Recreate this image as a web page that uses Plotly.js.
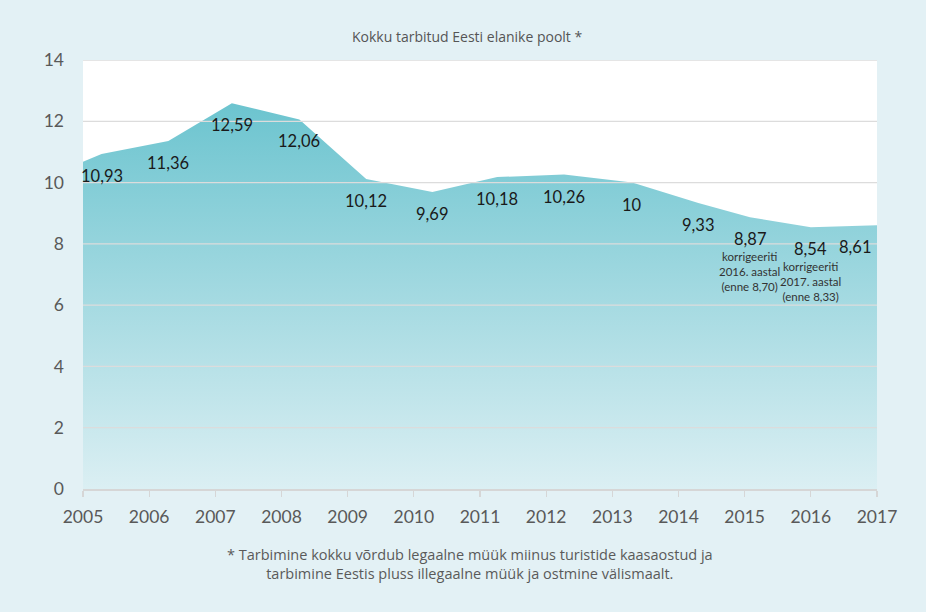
<!DOCTYPE html>
<html>
<head>
<meta charset="utf-8">
<script src="https://cdn.plot.ly/plotly-3.0.1.min.js"></script>
<style>html,body{margin:0;padding:0;background:#e3f1f5;}#chart{width:926px;height:612px;}</style>
</head>
<body>
<div id="chart"></div>
<script>
// ---- data ----
const tickYears = [2005, 2006, 2007, 2008, 2009, 2010, 2011, 2012, 2013, 2014, 2015, 2016, 2017];
const pointYears = [2005.28, 2006.29, 2007.25, 2008.27, 2009.28, 2010.28, 2011.26, 2012.27, 2013.3, 2014.3, 2015.08, 2016.0, 2017.0];
const values = [10.93, 11.36, 12.59, 12.06, 10.12, 9.69, 10.18, 10.26, 10, 9.33, 8.87, 8.54, 8.61];
const leftEdgeYear = 2005;
const leftEdgeValue = 10.68;
const notes = ['', '', '', '', '', '', '', '', '', '', 'korrigeeriti<br>2016. aastal<br>(enne 8,70)', 'korrigeeriti<br>2017. aastal<br>(enne 8,33)', ''];
const yTicks = [0, 2, 4, 6, 8, 10, 12, 14];
const titleText = 'Kokku tarbitud Eesti elanike poolt *';
const footText = '* Tarbimine kokku võrdub legaalne müük miinus turistide kaasaostud ja<br>tarbimine Eestis pluss illegaalne müük ja ostmine välismaalt.';

const FONT = 'Lato, "Open Sans", sans-serif';
const FONT2 = '"Open Sans", Lato, sans-serif';
const fmt = v => String(v).replace('.', ',');

const trace = {
  type: 'scatter',
  mode: 'none',
  x: [leftEdgeYear].concat(pointYears),
  y: [leftEdgeValue].concat(values),
  fill: 'tozeroy',
  fillcolor: '#8fd0da',
  fillgradient: {type: 'vertical', colorscale: [[0, '#dbeff3'], [1, '#6cc4cf']]},
  hoverinfo: 'skip',
  showlegend: false
};

const annotations = [];
values.forEach((v, i) => {
  const last = i === values.length - 1;
  annotations.push({
    x: pointYears[i], y: v, xref: 'x', yref: 'y',
    text: fmt(v), showarrow: false,
    xanchor: last ? 'right' : 'center', yanchor: 'top',
    xshift: last ? -4 : 0,
    yshift: -10,
    font: {family: FONT, size: 16.5, color: '#1a1a1a'}
  });
  if (notes[i]) {
    annotations.push({
      x: pointYears[i], y: v, xref: 'x', yref: 'y',
      text: notes[i], showarrow: false,
      xanchor: 'center', yanchor: 'top',
      yshift: -31,
      font: {family: FONT, size: 11.5, color: '#333333'}
    });
  }
});
annotations.push({
  x: 0.5, y: 1, xref: 'paper', yref: 'paper', yanchor: 'bottom', yshift: 12, xshift: -13,
  text: titleText, showarrow: false,
  font: {family: FONT2, size: 14, color: '#555555'}
});
annotations.push({
  x: 0.5, y: 0, xref: 'paper', yref: 'paper', yanchor: 'top', yshift: -54, xshift: -10,
  text: footText, showarrow: false, align: 'center',
  font: {family: FONT2, size: 14.5, color: '#5a5a5a'}
});

const shapes = yTicks.filter(t => t > 0).map(t => ({
  type: 'line', xref: 'paper', yref: 'y', x0: 0, x1: 1, y0: t, y1: t,
  layer: 'above', line: {color: '#dcdcdc', width: 1.3}
}));

const layout = {
  width: 926, height: 612,
  paper_bgcolor: '#e3f1f5',
  plot_bgcolor: '#ffffff',
  margin: {l: 83, r: 49, t: 60, b: 123},
  font: {family: FONT, color: '#595959'},
  xaxis: {
    type: 'linear',
    range: [tickYears[0], tickYears[tickYears.length - 1]],
    tickvals: tickYears, ticktext: tickYears.map(String),
    showgrid: false, zeroline: false,
    showline: true, linecolor: '#d6d6d6', linewidth: 1.5,
    ticks: 'outside', ticklen: 6, tickcolor: '#d6d6d6', tickwidth: 1.3,
    ticklabelstandoff: 5,
    tickfont: {family: FONT, size: 17.5, color: '#595959'},
    fixedrange: true
  },
  yaxis: {
    range: [0, 14],
    tickvals: yTicks, ticktext: yTicks.map(String),
    showgrid: false, zeroline: false, showline: false,
    ticks: '', ticklabelstandoff: 18,
    tickfont: {family: FONT, size: 17.5, color: '#595959'},
    fixedrange: true
  },
  shapes: shapes,
  annotations: annotations
};

Plotly.newPlot('chart', [trace], layout, {displayModeBar: false, staticPlot: true});
</script>
</body>
</html>
